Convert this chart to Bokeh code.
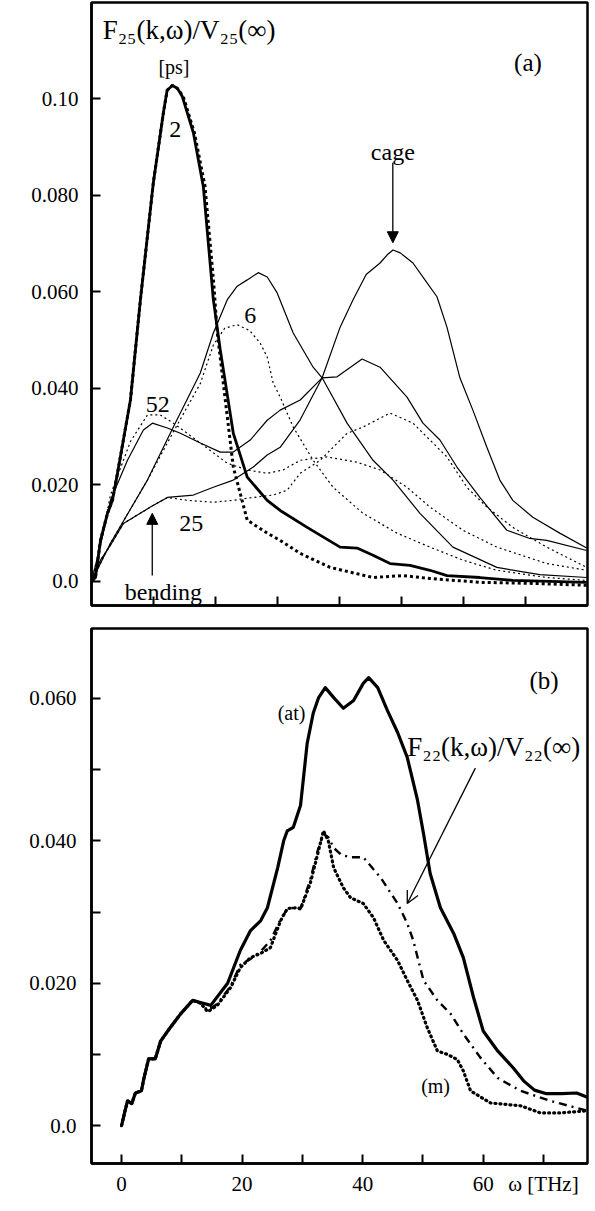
from bokeh.plotting import figure
from bokeh.models import Range1d, FixedTicker, Label, Arrow, NormalHead, OpenHead
from bokeh.layouts import column
from bokeh.embed import file_html
from bokeh.resources import INLINE

SERIF = "Liberation Serif"

# ---------------- Panel (a) data : omega [THz] vs F25(k,w)/V25(inf) [ps] ----------------
w_k2_solid = [0, 0.64, 1.45, 2.58, 3.38, 4.19, 6.28, 7.89, 9.98, 11.6, 12.2, 13.04, 13.85, 14.65,
              16.43, 18.04, 19.65, 20.77, 22.87, 25.12, 28.34, 30.43, 34.78, 40.1, 42.83, 45.41,
              48.15, 51.37, 54.59, 57.33, 62.64, 67.95, 73.9, 79.87]
v_k2_solid = [0.0, 0.0008, 0.0085, 0.0141, 0.0168, 0.0224, 0.0376, 0.0584, 0.0827, 0.0972, 0.1018,
              0.1028, 0.1022, 0.1005, 0.093, 0.0818, 0.0584, 0.048, 0.0307, 0.0216, 0.0168,
              0.0147, 0.0112, 0.0071, 0.0069, 0.0054, 0.0037, 0.0033, 0.0023, 0.0012, 0.0008,
              0.0002, 0.0, -0.0002]

w_k2_dot = [0, 0.64, 1.45, 2.58, 3.38, 4.19, 6.28, 7.89, 9.98, 11.6, 12.2, 13.04, 13.85, 14.8,
            16.6, 18.3, 19.7, 20.29, 22.87, 25.12, 28.34, 30.43, 33.66, 38.49, 45.41, 50.24,
            54.59, 62.64, 70.69, 79.87]
v_k2_dot = [0.0, 0.0008, 0.0085, 0.0141, 0.0168, 0.0224, 0.0376, 0.0584, 0.0827, 0.0972, 0.1018,
            0.1028, 0.1022, 0.1005, 0.093, 0.082, 0.062, 0.0515, 0.0237, 0.0127, 0.010, 0.0085,
            0.0058, 0.0029, 0.0008, 0.0012, 0.0006, -0.0002, -0.0004, -0.0008]

w_k6_solid = [0, 3.06, 9.02, 13.2, 17.55, 19.65, 21.9, 23.5, 25.12, 26.89, 28.34, 29.95, 32.53,
              35.75, 37.2, 41.22, 45.41, 48.63, 52.98, 58.29, 65.38, 72.3, 79.87]
v_k6_solid = [0, 0.0079, 0.021, 0.032, 0.0432, 0.0515, 0.0584, 0.0612, 0.0625, 0.064, 0.0631,
              0.0598, 0.0515, 0.0444, 0.0422, 0.0328, 0.0251, 0.021, 0.0141, 0.0071, 0.0029,
              0.0014, 0.0008]

w_k6_dot = [0, 3.06, 9.02, 13.2, 17.55, 19.65, 21.5, 23.51, 25.5, 27.21, 28.34, 29.31, 30.43,
            32.53, 35.75, 38.97, 43.8, 49.28, 54.59, 59.9, 65.38, 73.43, 79.87]
v_k6_dot = [0, 0.0079, 0.021, 0.031, 0.041, 0.049, 0.0525, 0.0532, 0.052, 0.0494, 0.0465, 0.0411,
            0.0382, 0.032, 0.0251, 0.0195, 0.0141, 0.010, 0.0071, 0.0044, 0.0023, 0.0008, 0.0002]

w_k52_solid = [0, 1.45, 3.06, 5.8, 8.37, 9.82, 12.24, 14.33, 17.55, 20.77, 22.87, 25.6, 28.34,
               30.43, 33.66, 37.2, 39.61, 43.64, 46.54, 50.89, 53.46, 56.2, 58.94, 62.64, 66.99,
               70.69, 73.43, 79.87]
v_k52_solid = [0, 0.0075, 0.0168, 0.0251, 0.0314, 0.0328, 0.0318, 0.0307, 0.0287, 0.0268, 0.0268,
               0.0293, 0.0334, 0.0355, 0.0376, 0.0422, 0.0424, 0.0461, 0.0444, 0.0382, 0.0328,
               0.0293, 0.0237, 0.0174, 0.0106, 0.0089, 0.0085, 0.0064]

w_k52_dot = [0, 1.45, 3.06, 6.28, 9.02, 11.1, 13.2, 17.55, 21.9, 25.12, 28.34, 30.92, 33.66, 38,
             42.83, 46.54, 50.89, 54.59, 59.9, 65.38, 73.43, 79.87]
v_k52_dot = [0, 0.0075, 0.0179, 0.029, 0.0345, 0.0345, 0.0328, 0.0287, 0.0245, 0.0231, 0.0224,
             0.0231, 0.0251, 0.0258, 0.0247, 0.0231, 0.0195, 0.0154, 0.0106, 0.0071, 0.0037, 0.0023]

w_k25_solid = [0, 1.45, 3.06, 5.15, 9.5, 12.24, 16.43, 19.65, 22.87, 26.09, 28.34, 30.43, 33.66,
               37.2, 40.1, 42.19, 44.3, 46.54, 47.7, 48.63, 49.8, 51.85, 53.78, 55.72, 57.33,
               59.42, 61.51, 63.77, 65.86, 67.95, 71.18, 75.52, 79.87]
v_k25_solid = [0, 0.0044, 0.0075, 0.012, 0.0154, 0.0174, 0.0179, 0.0195, 0.021, 0.0237, 0.0262,
               0.0278, 0.0335, 0.0422, 0.0527, 0.0584, 0.0636, 0.066, 0.0677, 0.0687, 0.0681,
               0.066, 0.0625, 0.059, 0.0527, 0.0422, 0.0355, 0.0278, 0.021, 0.0168, 0.0133,
               0.010, 0.0069]

w_k25_dot = [0, 1.45, 3.06, 5.15, 9.5, 12.24, 15.46, 19.65, 22.87, 26.09, 29.31, 31.56, 33.66,
             36.88, 41.22, 43.8, 48.15, 51.85, 54.59, 57.33, 60.55, 63.77, 67.95, 73.43, 79.87]
v_k25_dot = [0, 0.0044, 0.0075, 0.012, 0.0154, 0.0174, 0.0168, 0.0164, 0.0168, 0.0174, 0.0179,
             0.0189, 0.0224, 0.0251, 0.0307, 0.032, 0.0349, 0.0328, 0.0293, 0.0258, 0.0195,
             0.0154, 0.0112, 0.0071, 0.0029]

ticks_a_x_minor = [10, 20, 30, 40, 50, 60, 70]
ticks_a_y = [0.0, 0.02, 0.04, 0.06, 0.08, 0.10]
labels_a_y = ["0.0", "0.020", "0.040", "0.060", "0.080", "0.10"]

# ---------------- Panel (b) data ----------------
w_at = [0, 0.5, 1.0, 1.7, 2.3, 3.3, 3.7, 4.5, 5.6, 6.5, 8.1, 9.8, 11.8, 13.1, 14.8, 17.6, 19.7,
        21.4, 23.1, 24.2, 25.9, 26.9, 27.5, 28.5, 29.7, 30.8, 31.8, 32.7, 33.8, 35.2, 36.8, 38.5,
        40.1, 41.0, 42.5, 44.1, 45.8, 47.4, 49.1, 50.1, 51.2, 52.9, 55.1, 56.7, 58.4, 60.0, 62.4,
        65.0, 66.7, 68.5, 70.5, 73.0, 75.5, 77.3]
v_at = [0, 0.0018, 0.0035, 0.0031, 0.0046, 0.0049, 0.0066, 0.0094, 0.0094, 0.0119, 0.0138, 0.0157,
        0.0176, 0.0173, 0.0169, 0.020, 0.0246, 0.0274, 0.0288, 0.0306, 0.0362, 0.040, 0.0414,
        0.0419, 0.0450, 0.0537, 0.0579, 0.0601, 0.0615, 0.0601, 0.0586, 0.0597, 0.0621, 0.0629,
        0.0615, 0.0583, 0.0552, 0.0517, 0.0457, 0.041, 0.0354, 0.0306, 0.027, 0.0236, 0.018,
        0.0133, 0.0105, 0.0081, 0.0063, 0.005, 0.0045, 0.0045, 0.0046, 0.004]

w_f22 = [0, 0.5, 1.0, 1.7, 2.3, 3.3, 3.7, 4.5, 5.6, 6.5, 8.1, 9.8, 11.8, 13.1, 14.3, 15.9, 18.1,
         19.7, 21.4, 23.1, 24.7, 26.4, 27.5, 29.2, 29.7, 31.3, 32.5, 33.5, 34.3, 35.2, 36.5, 38.0,
         40.1, 43.0, 45.8, 47.4, 48.4, 50.1, 52.4, 54.6, 56.7, 59.5, 62.4, 66.2, 71.1, 77.3]
v_f22 = [0, 0.0018, 0.0035, 0.0031, 0.0046, 0.0049, 0.0066, 0.0094, 0.0094, 0.0119, 0.0138, 0.0157,
         0.0176, 0.0172, 0.0162, 0.0171, 0.0196, 0.0226, 0.0234, 0.0245, 0.026, 0.029, 0.0304,
         0.0307, 0.0305, 0.0345, 0.0385, 0.041, 0.0405, 0.039, 0.038, 0.0377, 0.0377, 0.0348,
         0.0312, 0.0284, 0.026, 0.0204, 0.0176, 0.0157, 0.0129, 0.0096, 0.0067, 0.0049, 0.0035,
         0.0021]

w_m = [0, 0.5, 1.0, 1.7, 2.3, 3.3, 3.7, 4.5, 5.6, 6.5, 8.1, 9.8, 11.8, 13.1, 14.3, 15.9, 18.1,
       19.7, 21.4, 23.1, 24.7, 26.4, 27.5, 29.2, 29.7, 31.3, 32.5, 33.5, 34.3, 35.2, 36.8, 38.0,
       40.1, 41.8, 43.5, 45.8, 47.4, 49.1, 50.7, 52.4, 54.1, 55.7, 56.7, 57.9, 61.2, 66.2, 69.5,
       72.8, 77.3]
v_m = [0, 0.0018, 0.0035, 0.0031, 0.0046, 0.0049, 0.0066, 0.0094, 0.0094, 0.0119, 0.0138, 0.0157,
       0.0176, 0.0172, 0.0160, 0.0169, 0.0194, 0.0222, 0.0236, 0.0242, 0.025, 0.0288, 0.0305,
       0.0306, 0.0304, 0.034, 0.038, 0.0414, 0.040, 0.0362, 0.0334, 0.032, 0.0312, 0.0292, 0.026,
       0.0232, 0.0204, 0.0176, 0.0138, 0.0105, 0.0100, 0.0093, 0.0077, 0.0049, 0.0032, 0.0028,
       0.0018, 0.0018, 0.0021]

ticks_b_x = [0, 20, 40, 60, 70]
labels_b_x = ["0", "20", "40", "60", "\u03c9 [THz]"]
ticks_b_x_minor = [10, 30, 50]
ticks_b_y = [0.0, 0.02, 0.04, 0.06]
labels_b_y = ["0.0", "0.020", "0.040", "0.060"]
ticks_b_y_minor = [0.01, 0.03, 0.05]


def style(p):
    p.grid.visible = False
    p.outline_line_color = "black"
    p.outline_line_width = 2.5
    p.outline_line_alpha = 1.0
    p.background_fill_color = "white"
    p.border_fill_color = "white"
    for ax in p.axis:
        ax.axis_line_width = 2.5
        ax.axis_line_color = "black"
        ax.major_tick_line_width = 2
        ax.major_tick_line_color = "black"
        ax.major_tick_in = 9
        ax.major_tick_out = 0
        ax.minor_tick_line_width = 2
        ax.minor_tick_line_color = "black"
        ax.minor_tick_in = 9
        ax.minor_tick_out = 0
        ax.major_label_text_font = SERIF
        ax.major_label_text_font_size = "21px"
        ax.major_label_text_color = "black"
        ax.major_label_standoff = 13


def lbl(p, x, y, text, size="24px", align="center"):
    p.add_layout(Label(x=x, y=y, text=text, text_font=SERIF, text_font_size=size,
                       text_align=align, text_baseline="alphabetic", text_color="black"))


# ---------------- Figure (a) ----------------
pa = figure(width=595, height=615, x_range=Range1d(0, 80), y_range=Range1d(-0.005, 0.12),
            output_backend="svg", toolbar_location=None,
            min_border_left=91, min_border_right=8, min_border_top=2, min_border_bottom=10)
style(pa)
pa.xaxis.ticker = FixedTicker(ticks=[], minor_ticks=ticks_a_x_minor)
pa.xaxis.major_label_standoff = 0
pa.yaxis.ticker = FixedTicker(ticks=ticks_a_y, minor_ticks=[])
pa.yaxis.major_label_overrides = {t: s for t, s in zip(ticks_a_y, labels_a_y)}

thin = 1.2
pa.line(w_k25_dot, v_k25_dot, line_color="black", line_width=thin, line_dash="2 3")
pa.line(w_k52_dot, v_k52_dot, line_color="black", line_width=thin, line_dash="2 3")
pa.line(w_k6_dot, v_k6_dot, line_color="black", line_width=thin, line_dash="2 3")
pa.line(w_k25_solid, v_k25_solid, line_color="black", line_width=thin, line_join="round")
pa.line(w_k52_solid, v_k52_solid, line_color="black", line_width=thin, line_join="round")
pa.line(w_k6_solid, v_k6_solid, line_color="black", line_width=thin, line_join="round")
pa.line(w_k2_dot, v_k2_dot, line_color="black", line_width=3, line_dash="3 3")
pa.line(w_k2_solid, v_k2_solid, line_color="black", line_width=2.8, line_join="round")

lbl(pa, 1.8, 0.1144, "F\u2082\u2085(k,\u03c9)/V\u2082\u2085(\u221e)", size="27px", align="left")
lbl(pa, 13.3, 0.1067, "[ps]", size="20px")
lbl(pa, 70.4, 0.1075, "(a)", size="25px")
lbl(pa, 48.6, 0.0891, "cage", size="24px")
lbl(pa, 13.5, 0.0937, "2", size="24px")
lbl(pa, 25.6, 0.0552, "6", size="24px")
lbl(pa, 10.7, 0.0366, "52", size="24px")
lbl(pa, 16.1, 0.0120, "25", size="24px")
lbl(pa, 11.6, -0.0023, "bending", size="24px")

pa.add_layout(Arrow(end=NormalHead(size=11, fill_color="black", line_color="black"),
                    x_start=48.6, y_start=0.0868, x_end=48.6, y_end=0.0702,
                    line_width=1.3, line_color="black"))
pa.add_layout(Arrow(end=NormalHead(size=11, fill_color="black", line_color="black"),
                    x_start=9.8, y_start=0.0012, x_end=9.8, y_end=0.0141,
                    line_width=1.3, line_color="black"))

# ---------------- Figure (b) ----------------
pb = figure(width=595, height=596, x_range=Range1d(-4.98, 77.3), y_range=Range1d(-0.0053, 0.0698),
            output_backend="svg", toolbar_location=None,
            min_border_left=91, min_border_right=8, min_border_top=13, min_border_bottom=48)
style(pb)
pb.xaxis.ticker = FixedTicker(ticks=ticks_b_x, minor_ticks=ticks_b_x_minor)
pb.xaxis.major_label_overrides = {t: s for t, s in zip(ticks_b_x, labels_b_x)}
pb.xaxis.major_label_standoff = 8
pb.yaxis.ticker = FixedTicker(ticks=ticks_b_y, minor_ticks=ticks_b_y_minor)
pb.yaxis.major_label_overrides = {t: s for t, s in zip(ticks_b_y, labels_b_y)}
pb.yaxis.major_label_standoff = 15

pb.line(w_m, v_m, line_color="black", line_width=3.2, line_dash="1 4", line_cap="round")
pb.line(w_f22, v_f22, line_color="black", line_width=2.4, line_dash="8 5 2 5")
pb.line(w_at, v_at, line_color="black", line_width=3.2, line_join="round")

lbl(pb, 70.1, 0.0625, "(b)", size="25px")
lbl(pb, 28.2, 0.0579, "(at)", size="20px")
lbl(pb, 47.4, 0.0531, "F\u2082\u2082(k,\u03c9)/V\u2082\u2082(\u221e)", size="27px", align="left")
lbl(pb, 52.1, 0.0056, "(m)", size="20px")

pb.add_layout(Arrow(end=OpenHead(size=12, line_color="black", line_width=1.3),
                    x_start=58.7, y_start=0.0502, x_end=47.4, y_end=0.0312,
                    line_width=1.3, line_color="black"))

layout = column(pa, pb, spacing=0)
open("out.html", "w").write(file_html(layout, INLINE))
